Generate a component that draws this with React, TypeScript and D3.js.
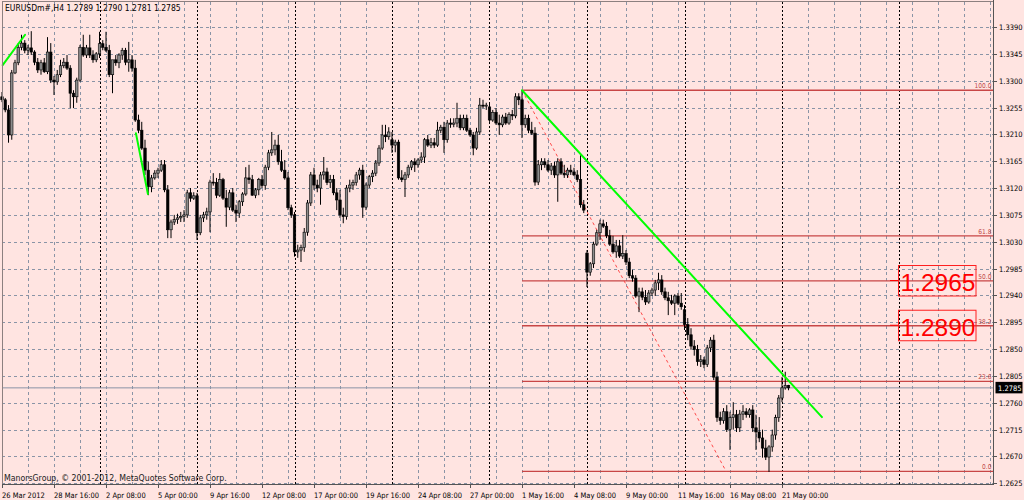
import * as d3 from 'd3';

// EURUSD H4 candles, [open, high, low, close], one array per trading week
const wk0326 = [
  [1.3273, 1.3281, 1.3264, 1.3268], [1.3268, 1.3271, 1.3247, 1.3251], [1.3251, 1.3259, 1.3196, 1.3209],
  [1.3209, 1.3318, 1.3201, 1.3313], [1.3313, 1.3335, 1.3311, 1.3330], [1.3330, 1.3363, 1.3326, 1.3356],
  [1.3356, 1.3377, 1.3351, 1.3363], [1.3363, 1.3368, 1.3346, 1.3351], [1.3351, 1.3360, 1.3343, 1.3355],
  [1.3355, 1.3383, 1.3343, 1.3348], [1.3348, 1.3351, 1.3326, 1.3331], [1.3331, 1.3338, 1.3313, 1.3318],
  [1.3318, 1.3335, 1.3310, 1.3330], [1.3330, 1.3338, 1.3313, 1.3315], [1.3315, 1.3373, 1.3311, 1.3348],
  [1.3348, 1.3363, 1.3296, 1.3301], [1.3301, 1.3308, 1.3276, 1.3298], [1.3298, 1.3318, 1.3293, 1.3310],
  [1.3310, 1.3335, 1.3306, 1.3325], [1.3325, 1.3338, 1.3321, 1.3331], [1.3331, 1.3343, 1.3318, 1.3321],
  [1.3321, 1.3326, 1.3254, 1.3279], [1.3279, 1.3284, 1.3254, 1.3273], [1.3273, 1.3305, 1.3263, 1.3301],
  [1.3301, 1.3360, 1.3298, 1.3356], [1.3356, 1.3377, 1.3340, 1.3343], [1.3343, 1.3360, 1.3338, 1.3355],
  [1.3355, 1.3377, 1.3338, 1.3343], [1.3343, 1.3351, 1.3330, 1.3335], [1.3335, 1.3348, 1.3331, 1.3345],
];
const wk0402 = [
  [1.3345, 1.3382, 1.3338, 1.3362], [1.3362, 1.3368, 1.3351, 1.3356], [1.3356, 1.3382, 1.3348, 1.3351],
  [1.3351, 1.3360, 1.3306, 1.3310], [1.3310, 1.3331, 1.3279, 1.3335], [1.3335, 1.3343, 1.3325, 1.3330],
  [1.3330, 1.3346, 1.3321, 1.3343], [1.3343, 1.3355, 1.3335, 1.3351], [1.3351, 1.3355, 1.3326, 1.3331],
  [1.3331, 1.3365, 1.3315, 1.3335], [1.3335, 1.3343, 1.3315, 1.3321], [1.3321, 1.3335, 1.3231, 1.3234],
  [1.3234, 1.3243, 1.3212, 1.3217], [1.3217, 1.3231, 1.3184, 1.3187], [1.3187, 1.3201, 1.3142, 1.3150],
  [1.3150, 1.3164, 1.3108, 1.3122], [1.3122, 1.3142, 1.3113, 1.3137], [1.3137, 1.3150, 1.3134, 1.3145],
  [1.3145, 1.3154, 1.3137, 1.3150], [1.3150, 1.3167, 1.3147, 1.3159], [1.3159, 1.3167, 1.3113, 1.3117],
  [1.3117, 1.3125, 1.3036, 1.3050], [1.3050, 1.3067, 1.3036, 1.3063], [1.3063, 1.3075, 1.3058, 1.3067],
  [1.3067, 1.3077, 1.3060, 1.3070], [1.3070, 1.3080, 1.3063, 1.3072], [1.3072, 1.3083, 1.3063, 1.3075],
  [1.3075, 1.3117, 1.3070, 1.3112], [1.3112, 1.3120, 1.3097, 1.3103], [1.3103, 1.3113, 1.3100, 1.3107],
];
const wk0409 = [
  [1.3107, 1.3112, 1.3033, 1.3045], [1.3045, 1.3075, 1.3041, 1.3070], [1.3070, 1.3080, 1.3063, 1.3075],
  [1.3075, 1.3087, 1.3067, 1.3080], [1.3080, 1.3134, 1.3046, 1.3130], [1.3130, 1.3145, 1.3124, 1.3129],
  [1.3129, 1.3137, 1.3103, 1.3108], [1.3108, 1.3145, 1.3105, 1.3134], [1.3134, 1.3137, 1.3100, 1.3103],
  [1.3103, 1.3117, 1.3055, 1.3088], [1.3088, 1.3117, 1.3083, 1.3112], [1.3112, 1.3120, 1.3080, 1.3083],
  [1.3083, 1.3092, 1.3063, 1.3078], [1.3078, 1.3100, 1.3070, 1.3097], [1.3097, 1.3113, 1.3090, 1.3110],
  [1.3110, 1.3155, 1.3107, 1.3137], [1.3137, 1.3159, 1.3127, 1.3134], [1.3134, 1.3142, 1.3107, 1.3108],
  [1.3108, 1.3120, 1.3103, 1.3117], [1.3117, 1.3137, 1.3108, 1.3134], [1.3134, 1.3142, 1.3120, 1.3124],
  [1.3124, 1.3159, 1.3117, 1.3155], [1.3155, 1.3184, 1.3150, 1.3179], [1.3179, 1.3214, 1.3174, 1.3184],
  [1.3184, 1.3201, 1.3175, 1.3192], [1.3192, 1.3209, 1.3159, 1.3164], [1.3164, 1.3184, 1.3147, 1.3150],
  [1.3150, 1.3167, 1.3134, 1.3137], [1.3137, 1.3147, 1.3083, 1.3087], [1.3087, 1.3092, 1.3070, 1.3075],
];
const wk0416 = [
  [1.3075, 1.3080, 1.3005, 1.3013], [1.3013, 1.3025, 1.3003, 1.3016], [1.3016, 1.3025, 1.2996, 1.3020],
  [1.3020, 1.3053, 1.3013, 1.3046], [1.3046, 1.3100, 1.3040, 1.3095], [1.3095, 1.3147, 1.3090, 1.3142],
  [1.3142, 1.3154, 1.3117, 1.3125], [1.3125, 1.3134, 1.3113, 1.3120], [1.3120, 1.3147, 1.3092, 1.3142],
  [1.3142, 1.3172, 1.3134, 1.3147], [1.3147, 1.3154, 1.3125, 1.3129], [1.3129, 1.3142, 1.3120, 1.3134],
  [1.3134, 1.3142, 1.3108, 1.3112], [1.3112, 1.3120, 1.3083, 1.3100], [1.3100, 1.3117, 1.3070, 1.3075],
  [1.3075, 1.3087, 1.3061, 1.3072], [1.3072, 1.3125, 1.3067, 1.3120], [1.3120, 1.3134, 1.3113, 1.3125],
  [1.3125, 1.3134, 1.3117, 1.3129], [1.3129, 1.3147, 1.3124, 1.3142], [1.3142, 1.3154, 1.3134, 1.3150],
  [1.3150, 1.3159, 1.3070, 1.3088], [1.3088, 1.3129, 1.3083, 1.3125], [1.3125, 1.3142, 1.3120, 1.3139],
  [1.3139, 1.3150, 1.3130, 1.3145], [1.3145, 1.3167, 1.3140, 1.3162], [1.3162, 1.3192, 1.3157, 1.3187],
  [1.3187, 1.3226, 1.3184, 1.3209], [1.3209, 1.3226, 1.3197, 1.3206], [1.3206, 1.3222, 1.3201, 1.3214],
];
const wk0423 = [
  [1.3201, 1.3214, 1.3179, 1.3192], [1.3192, 1.3201, 1.3180, 1.3197], [1.3197, 1.3201, 1.3134, 1.3137],
  [1.3137, 1.3150, 1.3130, 1.3134], [1.3134, 1.3147, 1.3105, 1.3142], [1.3142, 1.3159, 1.3137, 1.3155],
  [1.3155, 1.3167, 1.3150, 1.3164], [1.3164, 1.3170, 1.3147, 1.3159], [1.3159, 1.3170, 1.3154, 1.3167],
  [1.3167, 1.3180, 1.3162, 1.3172], [1.3172, 1.3204, 1.3162, 1.3201], [1.3201, 1.3209, 1.3189, 1.3192],
  [1.3192, 1.3204, 1.3187, 1.3196], [1.3196, 1.3204, 1.3187, 1.3192], [1.3192, 1.3231, 1.3189, 1.3217],
  [1.3217, 1.3226, 1.3212, 1.3222], [1.3222, 1.3231, 1.3179, 1.3201], [1.3201, 1.3234, 1.3196, 1.3229],
  [1.3229, 1.3237, 1.3221, 1.3227], [1.3227, 1.3237, 1.3222, 1.3229], [1.3229, 1.3263, 1.3222, 1.3237],
  [1.3237, 1.3243, 1.3217, 1.3221], [1.3221, 1.3243, 1.3217, 1.3237], [1.3237, 1.3243, 1.3214, 1.3217],
  [1.3217, 1.3221, 1.3206, 1.3209], [1.3209, 1.3214, 1.3175, 1.3187], [1.3187, 1.3221, 1.3184, 1.3214],
  [1.3214, 1.3271, 1.3209, 1.3259], [1.3259, 1.3268, 1.3254, 1.3258], [1.3258, 1.3263, 1.3251, 1.3259],
];
const wk0430 = [
  [1.3256, 1.3261, 1.3231, 1.3234], [1.3234, 1.3251, 1.3231, 1.3247], [1.3247, 1.3254, 1.3226, 1.3229],
  [1.3229, 1.3243, 1.3209, 1.3226], [1.3226, 1.3243, 1.3222, 1.3239], [1.3239, 1.3246, 1.3226, 1.3229],
  [1.3229, 1.3247, 1.3226, 1.3243], [1.3243, 1.3251, 1.3234, 1.3241], [1.3241, 1.3279, 1.3237, 1.3273],
  [1.3273, 1.3279, 1.3259, 1.3268], [1.3268, 1.3284, 1.3204, 1.3226], [1.3226, 1.3243, 1.3221, 1.3237],
  [1.3237, 1.3243, 1.3212, 1.3217], [1.3217, 1.3231, 1.3209, 1.3212], [1.3212, 1.3222, 1.3124, 1.3130],
  [1.3130, 1.3167, 1.3125, 1.3159], [1.3159, 1.3170, 1.3150, 1.3164], [1.3164, 1.3170, 1.3154, 1.3159],
  [1.3159, 1.3167, 1.3147, 1.3150], [1.3150, 1.3162, 1.3142, 1.3157], [1.3157, 1.3164, 1.3137, 1.3142],
  [1.3142, 1.3170, 1.3097, 1.3164], [1.3164, 1.3170, 1.3142, 1.3145], [1.3145, 1.3159, 1.3137, 1.3142],
  [1.3142, 1.3154, 1.3137, 1.3150], [1.3150, 1.3159, 1.3142, 1.3147], [1.3147, 1.3154, 1.3140, 1.3142],
  [1.3142, 1.3150, 1.3130, 1.3134], [1.3134, 1.3175, 1.3087, 1.3092], [1.3092, 1.3100, 1.3078, 1.3083],
];
const wk0507 = [
  [1.3011, 1.3016, 1.2954, 1.2979], [1.2979, 1.2996, 1.2973, 1.2993], [1.2993, 1.3030, 1.2986, 1.3026],
  [1.3026, 1.3050, 1.3023, 1.3045], [1.3045, 1.3067, 1.3033, 1.3060], [1.3060, 1.3067, 1.3053, 1.3056],
  [1.3056, 1.3063, 1.3036, 1.3040], [1.3040, 1.3050, 1.3023, 1.3026], [1.3026, 1.3040, 1.3010, 1.3013],
  [1.3013, 1.3033, 1.3003, 1.3023], [1.3023, 1.3033, 1.3003, 1.3006], [1.3006, 1.3041, 1.3001, 1.3010],
  [1.3010, 1.3016, 1.2991, 1.2996], [1.2996, 1.3003, 1.2969, 1.2973], [1.2973, 1.2983, 1.2963, 1.2969],
  [1.2969, 1.2974, 1.2936, 1.2939], [1.2939, 1.2953, 1.2912, 1.2946], [1.2946, 1.2953, 1.2932, 1.2937],
  [1.2937, 1.2949, 1.2924, 1.2929], [1.2929, 1.2949, 1.2926, 1.2944], [1.2944, 1.2953, 1.2939, 1.2949],
  [1.2949, 1.2966, 1.2939, 1.2961], [1.2961, 1.2978, 1.2949, 1.2966], [1.2966, 1.2974, 1.2941, 1.2946],
  [1.2946, 1.2953, 1.2932, 1.2936], [1.2936, 1.2946, 1.2907, 1.2931], [1.2931, 1.2941, 1.2924, 1.2927],
  [1.2927, 1.2942, 1.2907, 1.2939], [1.2939, 1.2944, 1.2924, 1.2927], [1.2927, 1.2944, 1.2916, 1.2921],
];
const wk0514 = [
  [1.2916, 1.2924, 1.2882, 1.2891], [1.2891, 1.2902, 1.2865, 1.2874], [1.2874, 1.2885, 1.2849, 1.2855],
  [1.2855, 1.2865, 1.2839, 1.2849], [1.2849, 1.2857, 1.2822, 1.2829], [1.2829, 1.2840, 1.2820, 1.2832],
  [1.2832, 1.2837, 1.2818, 1.2824], [1.2824, 1.2857, 1.2820, 1.2852], [1.2852, 1.2870, 1.2845, 1.2865],
  [1.2865, 1.2874, 1.2798, 1.2803], [1.2803, 1.2812, 1.2728, 1.2735], [1.2735, 1.2745, 1.2723, 1.2730],
  [1.2730, 1.2751, 1.2725, 1.2745], [1.2745, 1.2756, 1.2711, 1.2715], [1.2715, 1.2745, 1.2681, 1.2735],
  [1.2735, 1.2761, 1.2715, 1.2740], [1.2740, 1.2748, 1.2711, 1.2718], [1.2718, 1.2748, 1.2711, 1.2741],
  [1.2741, 1.2756, 1.2731, 1.2745], [1.2745, 1.2751, 1.2735, 1.2740], [1.2740, 1.2751, 1.2735, 1.2748],
  [1.2748, 1.2756, 1.2711, 1.2718], [1.2718, 1.2740, 1.2681, 1.2711], [1.2711, 1.2736, 1.2694, 1.2701],
  [1.2701, 1.2715, 1.2668, 1.2684], [1.2684, 1.2698, 1.2664, 1.2669], [1.2669, 1.2689, 1.2644, 1.2686],
  [1.2686, 1.2715, 1.2678, 1.2706], [1.2706, 1.2740, 1.2698, 1.2735], [1.2735, 1.2773, 1.2728, 1.2768],
];
const wk0521 = [
  [1.2768, 1.2803, 1.2761, 1.2785], [1.2785, 1.2812, 1.2782, 1.2789], [1.2789, 1.2790, 1.2781, 1.2785],
];

const bars = [...wk0326, ...wk0402, ...wk0409, ...wk0416, ...wk0423, ...wk0430, ...wk0507, ...wk0514, ...wk0521];

const priceTicks = [1.3390, 1.3345, 1.3300, 1.3255, 1.3210, 1.3165, 1.3120, 1.3075, 1.3030, 1.2985,
  1.2940, 1.2895, 1.2850, 1.2805, 1.2760, 1.2715, 1.2670, 1.2625];

const timeLabels: [number, string][] = [
  [0, '26 Mar 2012'], [16, '28 Mar 16:00'], [32, '2 Apr 08:00'], [48, '5 Apr 00:00'],
  [64, '9 Apr 16:00'], [80, '12 Apr 08:00'], [96, '17 Apr 00:00'], [112, '19 Apr 16:00'],
  [128, '24 Apr 08:00'], [144, '27 Apr 00:00'], [160, '1 May 16:00'], [176, '4 May 08:00'],
  [192, '9 May 00:00'], [208, '11 May 16:00'], [224, '16 May 08:00'], [240, '21 May 00:00'],
];

// period separators (bar index)
const weekStarts = [30, 60, 90, 120, 150, 180, 210, 240, 276];

// Fibonacci retracement anchors [bar, price]
const fibFrom: [number, number] = [160, 1.3284];
const fibTo: [number, number] = [222.8, 1.2645];
const fibLevels = [0, 23.6, 38.2, 50, 61.8, 100];

// green trend lines [[bar, price], [bar, price]]
const trendLines: [number, number][][] = [
  [[0.2, 1.3326], [7.1, 1.3377]],
  [[41.2, 1.3212], [44.9, 1.3110]],
  [[160, 1.3284], [252.3, 1.2736]],
];

const targetLabels = [1.2965, 1.2890];
const lastPrice = 1.2785;

const W = 1024;
const H = 500;
const left = 2, right = 993, top = 2, bottom = 485;
const smallFont = "'DejaVu Sans Condensed','DejaVu Sans',sans-serif";
const bg = '#ffe4e1';
const gridColor = '#8a94a6';

export default function App() {
  const x = d3.scaleLinear().domain([0, 305]).range([2, 993.25]);
  const y = d3.scaleLinear().domain([1.2625, 1.3390]).range([483.3, 27]);

  const gridX = d3.range(8, 306, 8).filter(i => !weekStarts.includes(i));
  const fibY = (lv: number) => y(fibTo[1] + (fibFrom[1] - fibTo[1]) * lv / 100);

  const last = bars[bars.length - 1];

  return (
    <svg width={W} height={H} style={{ position: 'absolute', left: 0, top: 0, display: 'block' }}>
      <rect width={W} height={H} fill={bg} />

      {/* grid */}
      <g stroke={gridColor} strokeWidth={1} strokeDasharray="3,3" shapeRendering="crispEdges">
        {priceTicks.map(p => (
          <line key={'h' + p} x1={left} x2={right} y1={Math.round(y(p)) + 0.5} y2={Math.round(y(p)) + 0.5} />
        ))}
        {gridX.map(i => (
          <line key={'v' + i} x1={Math.round(x(i)) + 0.5} x2={Math.round(x(i)) + 0.5} y1={top} y2={bottom} />
        ))}
      </g>
      <g stroke="#000" strokeWidth={1} strokeDasharray="2,2" shapeRendering="crispEdges">
        {weekStarts.map(i => (
          <line key={'w' + i} x1={Math.round(x(i)) + 0.5} x2={Math.round(x(i)) + 0.5} y1={top} y2={bottom} />
        ))}
      </g>

      {/* current price line */}
      <line x1={left} x2={right} y1={y(lastPrice)} y2={y(lastPrice)} stroke="#8a94a6" strokeWidth={1} />

      {/* fibonacci */}
      <g>
        {fibLevels.map(lv => (
          <g key={'f' + lv}>
            <line x1={x(fibFrom[0])} x2={right} y1={fibY(lv)} y2={fibY(lv)} stroke="#c84646" strokeWidth={1.3} />
            <text x={991.5} y={fibY(lv) - 2} fontSize={6.6} fill="#c04848" textAnchor="end" fontFamily={smallFont}>
              {lv.toFixed(1)}
            </text>
          </g>
        ))}
        <line x1={x(fibFrom[0])} y1={y(fibFrom[1])} x2={x(fibTo[0])} y2={y(fibTo[1])}
          stroke="#ff4a4a" strokeWidth={1} strokeDasharray="3,3" />
      </g>

      {/* candles */}
      <g>
        {bars.map((b, i) => {
          const [o, h, l, c] = b;
          const cx = x(i);
          const bull = c >= o;
          const yt = y(Math.max(o, c));
          const yb = y(Math.min(o, c));
          return (
            <g key={'c' + i}>
              <line x1={cx} x2={cx} y1={y(h)} y2={y(l)} stroke="#000" strokeWidth={1} />
              <rect x={cx - 1.25} y={yt} width={2.5} height={Math.max(1, yb - yt)}
                fill={bull ? '#8c8c8c' : '#000'} stroke="#000" strokeWidth={0.6} />
            </g>
          );
        })}
      </g>

      {/* trend lines */}
      <g stroke="#00ff00" strokeWidth={2} strokeLinecap="round">
        {trendLines.map((t, k) => (
          <line key={'t' + k} x1={x(t[0][0])} y1={y(t[0][1])} x2={x(t[1][0])} y2={y(t[1][1])} />
        ))}
      </g>

      {/* target labels */}
      {targetLabels.map(p => (
        <g key={'tl' + p}>
          <line x1={890} x2={898} y1={y(p)} y2={y(p)} stroke="#ff0000" strokeWidth={1} />
          <rect x={898.5} y={y(p) - 15} width={77.5} height={30.5} fill="none" stroke="#ff2020" strokeWidth={1} />
          <text x={900.5} y={y(p) + 10.5} fontSize={24.5} fill="#ff0000" fontFamily="'Liberation Sans',Arial,sans-serif">
            {p.toFixed(4)}
          </text>
        </g>
      ))}

      {/* frame */}
      <g stroke="#8c8080" strokeWidth={1} fill="none" shapeRendering="crispEdges">
        <line x1={left + 0.5} x2={left + 0.5} y1={top} y2={bottom} />
        <line x1={left} x2={right} y1={top - 0.5} y2={top - 0.5} />
      </g>
      <g stroke="#555" strokeWidth={1} shapeRendering="crispEdges">
        <line x1={right + 0.5} x2={right + 0.5} y1={0} y2={bottom} />
        <line x1={left} x2={right} y1={bottom - 0.5} y2={bottom - 0.5} />
      </g>

      {/* price axis */}
      <g fontFamily={smallFont} fontSize={7.5} fill="#000">
        {priceTicks.map(p => (
          <g key={'pt' + p}>
            <line x1={right} x2={right + 4} y1={Math.round(y(p)) + 0.5} y2={Math.round(y(p)) + 0.5} stroke="#555" />
            <text x={999} y={y(p) + 3}>{p.toFixed(4)}</text>
          </g>
        ))}
      </g>
      <rect x={995.5} y={y(lastPrice) - 6} width={27} height={11.5} fill="#000" />
      <text x={998} y={y(lastPrice) + 3} fontFamily={smallFont} fontSize={7.5} fill="#fff">{lastPrice.toFixed(4)}</text>

      {/* time axis */}
      <g fontFamily={smallFont} fontSize={7.5} fill="#000">
        {timeLabels.map(([i, s]) => (
          <g key={'tx' + i}>
            <line x1={Math.round(x(i)) + 0.5} x2={Math.round(x(i)) + 0.5} y1={bottom} y2={bottom + 3} stroke="#555" />
            <text x={x(i)} y={498}>{s}</text>
          </g>
        ))}
      </g>

      {/* title and copyright */}
      <text x={5} y={11} fontFamily={smallFont} fontSize={8.5} fill="#000">
        {`EURUSDm#,H4  ${last[0].toFixed(4)} ${last[1].toFixed(4)} ${last[2].toFixed(4)} ${last[3].toFixed(4)}`}
      </text>
      <text x={4} y={481} fontFamily={smallFont} fontSize={8.7} fill="#222">
        ManorsGroup, © 2001-2012, MetaQuotes Software Corp.
      </text>
    </svg>
  );
}
